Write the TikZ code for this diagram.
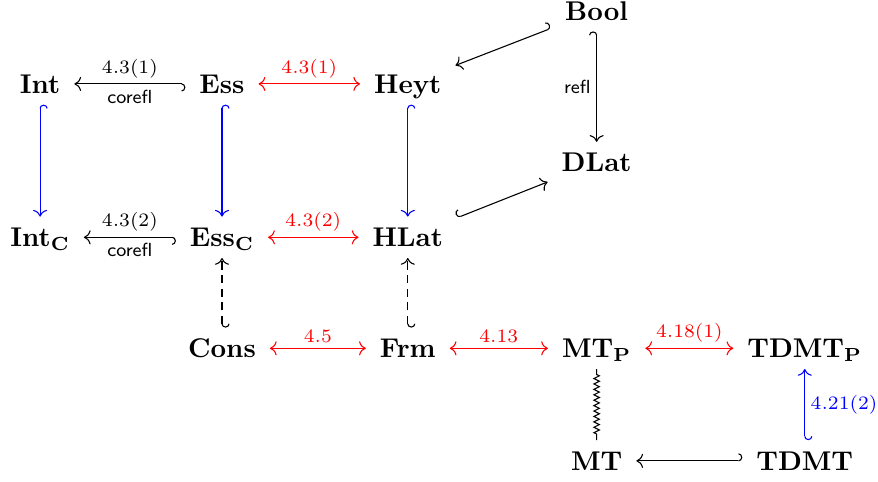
\documentclass[tikz,border=0pt]{standalone}
\usetikzlibrary{arrows.meta,decorations.pathmorphing}
\tikzset{obj/.style={anchor=base,text height=6.9pt,text depth=0pt,inner xsep=5pt,inner ysep=4pt}}
\tikzset{lab/.style={font=\scriptsize,inner sep=2pt}}
\tikzset{hkl/.style={{Hooks[left,length=1.4pt,width=5.6pt]}->}}
\tikzset{hkr/.style={{Hooks[right,length=1.4pt,width=5.6pt]}->}}
\tikzset{iso/.style={red,<->}}
\tikzset{wiggle/.style={decorate,decoration={zigzag,segment length=2pt,amplitude=1pt,pre length=2pt,post length=2pt}}}

\begin{document}
\begin{tikzpicture}
  \useasboundingbox (0,0) rectangle (11.39,-6.24);
  % objects
  \node[obj] (Bool) at (7.74,-0.26) {$\mathbf{Bool}$};
  \node[obj] (Int) at (0.52,-1.21) {$\mathbf{Int}$};
  \node[obj] (Ess) at (2.88,-1.21) {$\mathbf{Ess}$};
  \node[obj] (Heyt) at (5.29,-1.21) {$\mathbf{Heyt}$};
  \node[obj] (DLat) at (7.74,-2.23) {$\mathbf{DLat}$};
  \node[obj] (IntC) at (0.52,-3.20) {$\mathbf{Int_C}$};
  \node[obj] (EssC) at (2.88,-3.20) {$\mathbf{Ess_C}$};
  \node[obj] (HLat) at (5.29,-3.20) {$\mathbf{HLat}$};
  \node[obj] (Cons) at (2.88,-4.64) {$\mathbf{Cons}$};
  \node[obj] (Frm) at (5.29,-4.64) {$\mathbf{Frm}$};
  \node[obj] (MTP) at (7.74,-4.64) {$\mathbf{MT_P}$};
  \node[obj] (TDMTP) at (10.44,-4.64) {$\mathbf{TDMT_P}$};
  \node[obj] (MT) at (7.74,-6.10) {$\mathbf{MT}$};
  \node[obj] (TDMT) at (10.44,-6.10) {$\mathbf{TDMT}$};
  % black arrows
    \draw[hkr] (Ess) -- node[lab,above] {$4.3(1)$} node[lab,below] {\textsf{corefl}} (Int);
    \draw[hkr] (EssC) -- node[lab,above] {$4.3(2)$} node[lab,below] {\textsf{corefl}} (IntC);
    \draw[hkl] (Bool) -- (Heyt);
    \draw[hkl] (Bool) -- node[lab,left] {\textsf{refl}} (DLat);
    \draw[hkr] (HLat) -- (DLat);
    \draw[hkl] (TDMT) -- (MT);
    \draw[wiggle] (MTP) -- (MT);
  % dashed arrows
    \draw[hkl,dash pattern=on 3pt off 2pt] (Cons) -- (EssC);
    \draw[hkl,dash pattern=on 3pt off 2pt] (Frm) -- (HLat);
  % blue arrows
    \draw[hkr,blue] (Int) -- (IntC);
    \draw[hkr,blue] (Ess) -- (EssC);
    \draw[hkr,blue] (Heyt) -- (HLat);
    \draw[hkl,blue] (TDMT) -- node[lab,right] {$4.21(2)$} (TDMTP);
  % red arrows
    \draw[iso] (Ess) -- node[lab,above] {$4.3(1)$} (Heyt);
    \draw[iso] (EssC) -- node[lab,above] {$4.3(2)$} (HLat);
    \draw[iso] (Cons) -- node[lab,above] {$4.5$} (Frm);
    \draw[iso] (Frm) -- node[lab,above] {$4.13$} (MTP);
    \draw[iso] (MTP) -- node[lab,above] {$4.18(1)$} (TDMTP);
\end{tikzpicture}
\end{document}
